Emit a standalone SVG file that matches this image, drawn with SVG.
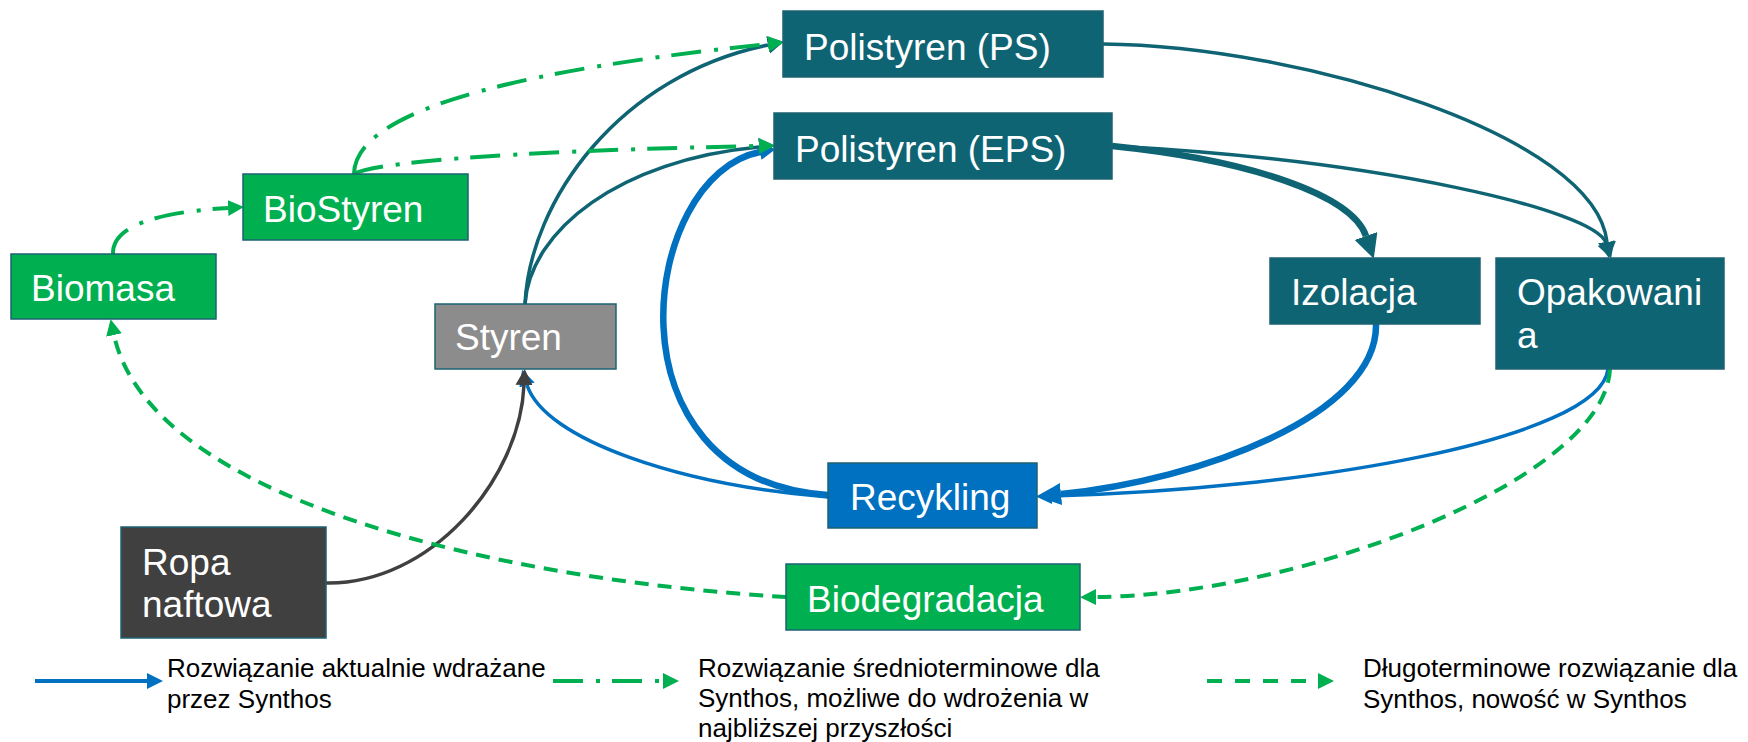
<svg xmlns="http://www.w3.org/2000/svg" width="1748" height="742" viewBox="0 0 1748 742">
<style>
.box{stroke:#1c6272;stroke-width:1.5}
.teal{fill:#0f6474}
.green{fill:#00b050}
.gray{fill:#8c8c8c}
.dark{fill:#404040}
.blue{fill:#0070c0}
.lbl{font-family:"Liberation Sans",Arial,sans-serif;font-size:37px;fill:#ffffff}
.leg{font-family:"Liberation Sans",Arial,sans-serif;font-size:26px;fill:#000000}
.c{fill:none}
.ct{stroke:#0f6474;stroke-width:3.5}
.ctk{stroke:#0f6474;stroke-width:6.5}
.cb{stroke:#0070c0;stroke-width:3.5}
.cbk{stroke:#0070c0;stroke-width:6.5}
.cg{stroke:#404040;stroke-width:3.5}
.dd{stroke:#00b050;stroke-width:4;stroke-dasharray:30 13 4 12}
.ds{stroke:#00b050;stroke-width:4;stroke-dasharray:14 9}
</style>
<defs>
<marker id="mTeal" markerUnits="userSpaceOnUse" viewBox="0 0 16 18" markerWidth="16" markerHeight="18" refX="0" refY="9" orient="auto"><path d="M0,0 L16,9 L0,18 z" fill="#0f6474"/></marker>
<marker id="mTealBig" markerUnits="userSpaceOnUse" viewBox="0 0 24 24" markerWidth="24" markerHeight="24" refX="0" refY="12" orient="auto"><path d="M0,0 L24,12 L0,24 z" fill="#0f6474"/></marker>
<marker id="mBlueBig" markerUnits="userSpaceOnUse" viewBox="0 0 24 22" markerWidth="24" markerHeight="22" refX="0" refY="11" orient="auto"><path d="M0,0 L24,11 L0,22 z" fill="#0070c0"/></marker>
<marker id="mBlue" markerUnits="userSpaceOnUse" viewBox="0 0 16 16" markerWidth="16" markerHeight="16" refX="0" refY="8" orient="auto"><path d="M0,0 L16,8 L0,16 z" fill="#0070c0"/></marker>
<marker id="mGreen" markerUnits="userSpaceOnUse" viewBox="0 0 16 16" markerWidth="16" markerHeight="16" refX="0" refY="8" orient="auto"><path d="M0,0 L16,8 L0,16 z" fill="#00b050"/></marker>
<marker id="mGray" markerUnits="userSpaceOnUse" viewBox="0 0 16 17" markerWidth="16" markerHeight="17" refX="0" refY="8.5" orient="auto"><path d="M0,0 L16,8.5 L0,17 z" fill="#404040"/></marker>
</defs>
<rect width="1748" height="742" fill="#ffffff"/>

<g id="connectors">
  <path class="c ct" d="M1103,44 C1300,46 1595,135 1607,242" marker-end="url(#mTeal)"/>
  <path class="c ct" d="M1112,146 C1380,160 1595,210 1606,243" marker-end="url(#mTeal)"/>
  <path class="c ctk" d="M1112,146 C1250,160 1352,195 1366,236" marker-end="url(#mTealBig)"/>
  <path class="c ct" d="M525,304 C530,200 620,75 768,45" marker-end="url(#mTeal)"/>
  <path class="c ct" d="M525,304 C530,230 620,160 759,147" marker-end="url(#mTeal)"/>
  <path class="c cbk" d="M1376,324 C1378,415 1200,480 1061,494" marker-end="url(#mBlueBig)"/>
  <path class="c cb" d="M1608,369 C1600,440 1300,490 1052,496" marker-end="url(#mBlue)"/>
  <path class="c cbk" d="M828,495 C600,480 640,175 760,152" marker-end="url(#mBlue)"/>
  <path class="c cb" d="M828,497 C680,485 545,440 527,385" marker-end="url(#mBlue)"/>
  <path class="c cg" d="M326,583 C430,585 520,480 524,385" marker-end="url(#mGray)"/>
  <path class="c ds" d="M786,597 C500,580 150,500 114,335" marker-end="url(#mGreen)"/>
  <path class="c ds" d="M1610,369 C1605,480 1300,595 1096,597" marker-end="url(#mGreen)"/>
  <path class="c dd" d="M113,254 C112,225 160,212 228,208" marker-end="url(#mGreen)"/>
  <path class="c dd" d="M354,174 C355,120 470,75 768,44" marker-end="url(#mGreen)"/>
  <path class="c dd" d="M354,174 C380,160 550,150 759,146" marker-end="url(#mGreen)"/>
</g>

<g id="node-ps"><rect class="box teal" x="783" y="11" width="320" height="66"/><text class="lbl" x="804" y="60">Polistyren (PS)</text></g>
<g id="node-eps"><rect class="box teal" x="774" y="113" width="338" height="66"/><text class="lbl" x="795" y="162">Polistyren (EPS)</text></g>
<g id="node-biostyren"><rect class="box green" x="243" y="174" width="225" height="66"/><text class="lbl" x="263" y="222">BioStyren</text></g>
<g id="node-biomasa"><rect class="box green" x="11" y="254" width="205" height="65"/><text class="lbl" x="31" y="301">Biomasa</text></g>
<g id="node-styren"><rect class="box gray" x="435" y="304" width="181" height="65"/><text class="lbl" x="455" y="350">Styren</text></g>
<g id="node-izolacja"><rect class="box teal" x="1270" y="258" width="210" height="66"/><text class="lbl" x="1291" y="305">Izolacja</text></g>
<g id="node-opakowania"><rect class="box teal" x="1496" y="258" width="228" height="111"/><text class="lbl" x="1517" y="305">Opakowani</text><text class="lbl" x="1517" y="348">a</text></g>
<g id="node-recykling"><rect class="box blue" x="828" y="463" width="209" height="65"/><text class="lbl" x="850" y="510">Recykling</text></g>
<g id="node-ropa"><rect class="box dark" x="121" y="527" width="205" height="111"/><text class="lbl" x="142" y="575">Ropa</text><text class="lbl" x="142" y="617">naftowa</text></g>
<g id="node-biodegradacja"><rect class="box green" x="786" y="564" width="294" height="66"/><text class="lbl" x="807" y="612">Biodegradacja</text></g>

<g id="legend">
  <path class="c" d="M35,681 L147,681" stroke="#0070c0" stroke-width="4" marker-end="url(#mBlue)"/>
  <text class="leg" x="167" y="677">Rozwiązanie aktualnie wdrażane</text>
  <text class="leg" x="167" y="708">przez Synthos</text>
  <path class="c" d="M553,681 L663,681" stroke="#00b050" stroke-width="4" stroke-dasharray="30 13 4 12" marker-end="url(#mGreen)"/>
  <text class="leg" x="698" y="677">Rozwiązanie średnioterminowe dla</text>
  <text class="leg" x="698" y="707">Synthos, możliwe do wdrożenia w</text>
  <text class="leg" x="698" y="737">najbliższej przyszłości</text>
  <path class="c" d="M1207,681 L1318,681" stroke="#00b050" stroke-width="4" stroke-dasharray="15 13" marker-end="url(#mGreen)"/>
  <text class="leg" x="1363" y="677">Długoterminowe rozwiązanie dla</text>
  <text class="leg" x="1363" y="708">Synthos, nowość w Synthos</text>
</g>
</svg>
